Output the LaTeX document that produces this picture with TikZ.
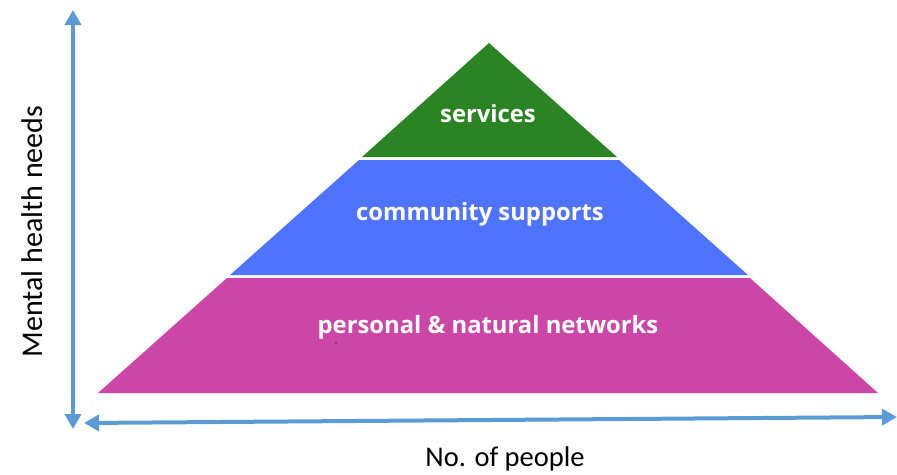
\documentclass[tikz,border=0pt]{standalone}
\usepackage{fontspec}
\setmainfont{Carlito}
\newfontfamily\layerfont{Open Sans}
\usetikzlibrary{arrows.meta}
\definecolor{axisblue}{HTML}{5B9BD5}
\definecolor{topgreen}{HTML}{2A8424}
\definecolor{midblue}{HTML}{4E74FF}
\definecolor{basepink}{HTML}{CC46A8}
\tikzset{
  axis/.style={draw=axisblue, line width=4pt,
    {Triangle[width=16pt,length=15pt]}-{Triangle[width=16pt,length=15pt]}},
  layertext/.style={text=white, font=\layerfont\bfseries\fontsize{23.8}{28}\selectfont, anchor=base, inner sep=0pt},
  axislabel/.style={text=black, anchor=base, inner sep=0pt}
}
\begin{document}
\begin{tikzpicture}[x=1pt,y=-1pt]
\useasboundingbox (0,0) rectangle (897,474);
% pyramid layers
\fill[topgreen] (489,43) -- (617,157) -- (362,157) -- cycle;
\fill[midblue] (359,160) -- (619,160) -- (748,275) -- (230,275) -- cycle;
\fill[basepink] (227,278) -- (750,278) -- (878,393) -- (98,393) -- cycle;
\fill[black!80] (336,343) circle (0.8);
% layer labels
\node[layertext] (services) at (488,122) {services};
\node[layertext] (community) at (480,220) {community supports};
\node[layertext] (personal) at (488,333) {personal \& natural networks};
% axes
\coordinate (ytop) at (73,10);
\coordinate (ybot) at (73,429);
\coordinate (xleft) at (84,423);
\coordinate (xright) at (897,417);
\draw[axis] (ybot) -- (ytop);
\draw[axis] (xleft) -- (xright);
% axis labels
\node[axislabel, rotate=90, font=\fontsize{30}{36}\selectfont] (needs) at (42,231.5) {Mental health needs};
\node[axislabel, font=\fontsize{28.5}{34}\selectfont] (people) at (505,466) {No. of people};
\end{tikzpicture}
\end{document}
